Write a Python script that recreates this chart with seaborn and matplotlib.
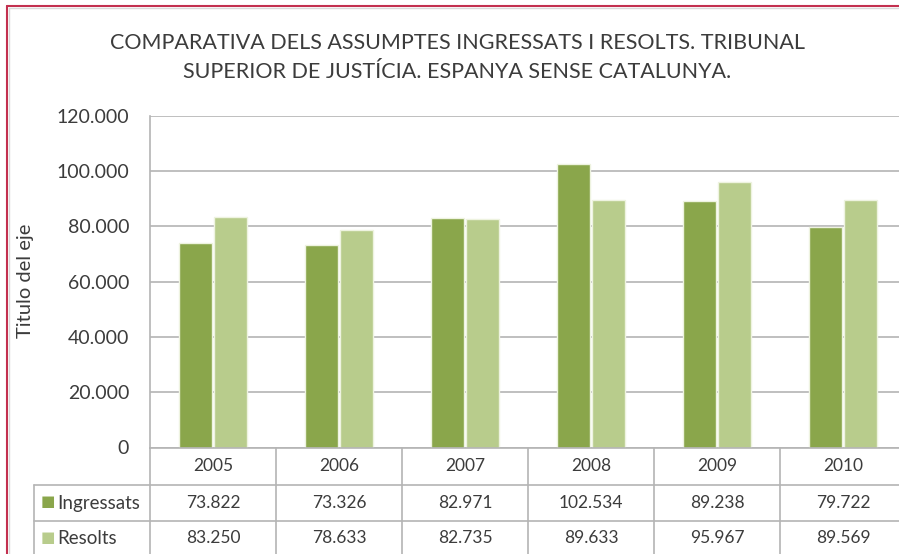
import matplotlib
matplotlib.use("Agg")
import matplotlib.pyplot as plt
import matplotlib.transforms as mtransforms
from matplotlib.lines import Line2D
import numpy as np
import pandas as pd
import seaborn as sns

# ---------------- data ----------------
years = ["2005", "2006", "2007", "2008", "2009", "2010"]
ingressats = [73822, 73326, 82971, 102534, 89238, 79722]
resolts = [83250, 78633, 82735, 89633, 95967, 89569]
series_names = ["Ingressats", "Resolts"]
series_colors = ["#8aa64b", "#b8cc8c"]
yticks = [0, 20000, 40000, 60000, 80000, 100000, 120000]
ytick_labels = ["0", "20.000", "40.000", "60.000", "80.000", "100.000", "120.000"]
title_lines = ["COMPARATIVA DELS ASSUMPTES INGRESSATS I RESOLTS. TRIBUNAL",
               "SUPERIOR DE JUSTÍCIA. ESPANYA SENSE CATALUNYA."]
ylabel = "Titulo del eje"

def fmt(v):
    return f"{v:,}".replace(",", ".")

df = pd.DataFrame({
    "Any": years * 2,
    "Sèrie": [series_names[0]] * len(years) + [series_names[1]] * len(years),
    "Valor": ingressats + resolts,
})

# ---------------- style ----------------
sns.set_style("white")
plt.rcParams["font.family"] = ["Lato", "DejaVu Sans"]
TXT = "#3c3c3c"
GRID = "#b4b4b4"

W, H = 899, 554
fig = plt.figure(figsize=(W / 100, H / 100), dpi=100)
fig.patch.set_facecolor("white")

def fx(px):
    return px / W

def fy(py):
    return 1 - py / H

# plot area in pixels (extends a little past the right edge, as in the reference)
L, R, T, B = 150, 906, 115.7, 447.5
ax = fig.add_axes([fx(L), fy(B), (R - L) / W, (B - T) / H])

sns.barplot(data=df, x="Any", y="Valor", hue="Sèrie", palette=series_colors,
            width=0.55, gap=0.05, edgecolor="#eef3e0", linewidth=1.0,
            ax=ax, legend=False, saturation=1)

ax.set_xlim(-0.5, len(years) - 0.5)
ax.set_ylim(0, 120000)
ax.set_yticks(yticks)
ax.set_yticklabels(ytick_labels)
ax.set_xticks([])
ax.set_xlabel("")
ax.set_ylabel("")
ax.yaxis.grid(True, color=GRID, linewidth=1.2)
ax.set_axisbelow(True)
for s in ["top", "right"]:
    ax.spines[s].set_visible(False)
for s in ["left", "bottom"]:
    ax.spines[s].set_color(GRID)
    ax.spines[s].set_linewidth(1.2)
ax.tick_params(axis="y", length=0, pad=15, labelsize=14, labelcolor=TXT)

# ---------------- title & axis title ----------------
fig.text(fx(457), fy(49), title_lines[0], ha="center", va="baseline", fontsize=15.5, color=TXT)
fig.text(fx(457), fy(78.5), title_lines[1], ha="center", va="baseline", fontsize=15.5, color=TXT)
fig.text(fx(26), fy(281), ylabel, rotation=90, ha="center", va="center", fontsize=14.5, color=TXT)

# ---------------- data table ----------------
tr = mtransforms.blended_transform_factory(ax.transData, fig.transFigure)
row_lines = [485, 521]
row_centers = [466, 503, 538]
tbl_left = 34

# vertical separators between year columns
for k in range(len(years) + 1):
    ax.add_line(Line2D([k - 0.5, k - 0.5], [fy(B), 0], transform=tr, color=GRID,
                       lw=1.2, clip_on=False))
# horizontal row separators
for yl in row_lines:
    fig.add_artist(Line2D([fx(tbl_left), 1], [fy(yl), fy(yl)], color=GRID, lw=1.2))
# left border of the legend column
fig.add_artist(Line2D([fx(tbl_left), fx(tbl_left)], [fy(row_lines[0]), 0], color=GRID, lw=1.2))

for i, yr in enumerate(years):
    ax.text(i, fy(row_centers[0]), yr, transform=tr, ha="center", va="center",
            fontsize=12.5, color=TXT, clip_on=False)
    ax.text(i, fy(row_centers[1]), fmt(ingressats[i]), transform=tr, ha="center",
            va="center", fontsize=12.5, color=TXT, clip_on=False)
    ax.text(i, fy(row_centers[2]), fmt(resolts[i]), transform=tr, ha="center",
            va="center", fontsize=12.5, color=TXT, clip_on=False)

for name, col, yc in zip(series_names, series_colors, row_centers[1:]):
    fig.text(fx(41), fy(yc - 1), "■", ha="left", va="center", fontsize=11,
             color=col, family=["DejaVu Sans"])
    fig.text(fx(57), fy(yc), name, ha="left", va="center", fontsize=13.5, color=TXT)

# ---------------- outer frame ----------------
fig.add_artist(Line2D([fx(7), fx(7)], [fy(6), 0], color="#c3304f", lw=1.5))
fig.add_artist(Line2D([fx(7), 1], [fy(6), fy(6)], color="#c3304f", lw=1.5))
fig.add_artist(Line2D([fx(9), fx(9)], [fy(8), 0], color="#d9d9d9", lw=1))
fig.add_artist(Line2D([fx(9), 1], [fy(8), fy(8)], color="#d9d9d9", lw=1))

fig.savefig("out.png", dpi=100, facecolor="white")
